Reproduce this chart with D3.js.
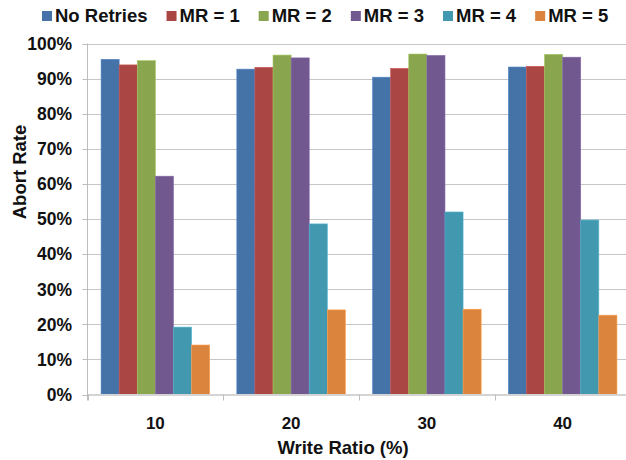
<!DOCTYPE html>
<html>
<head>
<meta charset="utf-8">
<script src="https://cdn.jsdelivr.net/npm/d3@7"></script>
<style>
  html, body { margin: 0; padding: 0; background: #fff; }
  svg { display: block; font-family: "Liberation Sans", Arial, sans-serif; font-weight: bold; }
</style>
</head>
<body>
<svg id="chart" width="626" height="460"></svg>
<script>
// Write ratio groups and abort rates (%) for each retry setting
const categories = ["10", "20", "30", "40"];
const seriesNames = ["No Retries", "MR = 1", "MR = 2", "MR = 3", "MR = 4", "MR = 5"];
const noRetries = [95.5, 92.7, 90.4, 93.3];
const mr1 = [93.9, 93.2, 92.9, 93.5];
const mr2 = [95.1, 96.7, 97.0, 96.9];
const mr3 = [62.2, 95.9, 96.6, 96.1];
const mr4 = [19.2, 48.6, 52.0, 49.7];
const mr5 = [14.1, 24.1, 24.3, 22.6];
const yTicks = [0, 10, 20, 30, 40, 50, 60, 70, 80, 90, 100];
const colors = ["#4572A7", "#AA4643", "#89A54E", "#71588F", "#4198AF", "#DB843D"];

const seriesValues = [noRetries, mr1, mr2, mr3, mr4, mr5];

const svg = d3.select("#chart");
const plot = { left: 87.5, right: 630.5, top: 43.5, bottom: 394.5 };

const x0 = d3.scaleBand().domain(categories)
  .range([plot.left, plot.right]).paddingInner(0.2).paddingOuter(0.1);
const x1 = d3.scaleBand().domain(d3.range(seriesNames.length))
  .range([0, x0.bandwidth()]).padding(0);
const y = d3.scaleLinear().domain([0, 100]).range([plot.bottom, plot.top]);

// Horizontal gridlines
svg.append("g").selectAll("line").data(yTicks.filter(d => d > 0)).join("line")
  .attr("x1", plot.left).attr("x2", plot.right)
  .attr("y1", d => Math.round(y(d)) + 0.5).attr("y2", d => Math.round(y(d)) + 0.5)
  .attr("stroke", "#c6c6c6").attr("stroke-width", 1);

// Bars
const groups = svg.append("g").selectAll("g").data(categories).join("g")
  .attr("transform", c => `translate(${x0(c)},0)`);
groups.selectAll("rect")
  .data((c, i) => seriesValues.map((vals, s) => ({ s, v: vals[i] })))
  .join("rect")
  .attr("x", d => x1(d.s))
  .attr("width", x1.bandwidth())
  .attr("y", d => y(d.v))
  .attr("height", d => y(0) - y(d.v))
  .attr("fill", d => colors[d.s])
  .attr("stroke", d => d3.color(colors[d.s]).brighter(0.5))
  .attr("stroke-width", 0.6);

// Category axis line and group boundary ticks
svg.append("line")
  .attr("x1", plot.left).attr("x2", plot.right)
  .attr("y1", plot.bottom + 0.5).attr("y2", plot.bottom + 0.5)
  .attr("stroke", "#d4d4d4").attr("stroke-width", 2);
const step = x0.step();
svg.append("g").selectAll("line").data(d3.range(categories.length + 1)).join("line")
  .attr("x1", i => Math.round(plot.left + i * step) + 0.5)
  .attr("x2", i => Math.round(plot.left + i * step) + 0.5)
  .attr("y1", plot.bottom).attr("y2", plot.bottom + 6)
  .attr("stroke", "#bdbdbd");

// Value axis line with outward ticks
svg.append("line")
  .attr("x1", plot.left).attr("x2", plot.left)
  .attr("y1", plot.top).attr("y2", plot.bottom + 6)
  .attr("stroke", "#bdbdbd");
svg.append("g").selectAll("line").data(yTicks).join("line")
  .attr("x1", plot.left - 5).attr("x2", plot.left)
  .attr("y1", d => Math.round(y(d)) + 0.5).attr("y2", d => Math.round(y(d)) + 0.5)
  .attr("stroke", "#bdbdbd");

// Value tick labels
svg.append("g").selectAll("text").data(yTicks).join("text")
  .attr("x", 72).attr("y", d => y(d))
  .attr("dy", "0.36em")
  .attr("text-anchor", "end")
  .attr("font-size", 17.5)
  .attr("fill", "#111")
  .text(d => d + "%");

// Category tick labels
svg.append("g").selectAll("text").data(categories).join("text")
  .attr("x", c => x0(c) + x0.bandwidth() / 2)
  .attr("y", 429)
  .attr("text-anchor", "middle")
  .attr("font-size", 17)
  .attr("fill", "#111")
  .text(c => c);

// Axis titles
svg.append("text")
  .attr("x", 343).attr("y", 454)
  .attr("text-anchor", "middle")
  .attr("font-size", 18.5)
  .attr("fill", "#111")
  .text("Write Ratio (%)");
svg.append("text")
  .attr("transform", "translate(26,172) rotate(-90)")
  .attr("text-anchor", "middle")
  .attr("font-size", 18.5)
  .attr("fill", "#111")
  .text("Abort Rate");

// Legend
const legend = svg.append("g");
let lx = 42;
seriesNames.forEach((name, i) => {
  legend.append("rect")
    .attr("x", lx).attr("y", 11).attr("width", 10).attr("height", 10)
    .attr("fill", colors[i]);
  const t = legend.append("text")
    .attr("x", lx + 13).attr("y", 21.5)
    .attr("font-size", 18.5)
    .attr("fill", "#111")
    .text(name);
  lx += 13 + t.node().getComputedTextLength() + 19;
});
</script>
</body>
</html>
